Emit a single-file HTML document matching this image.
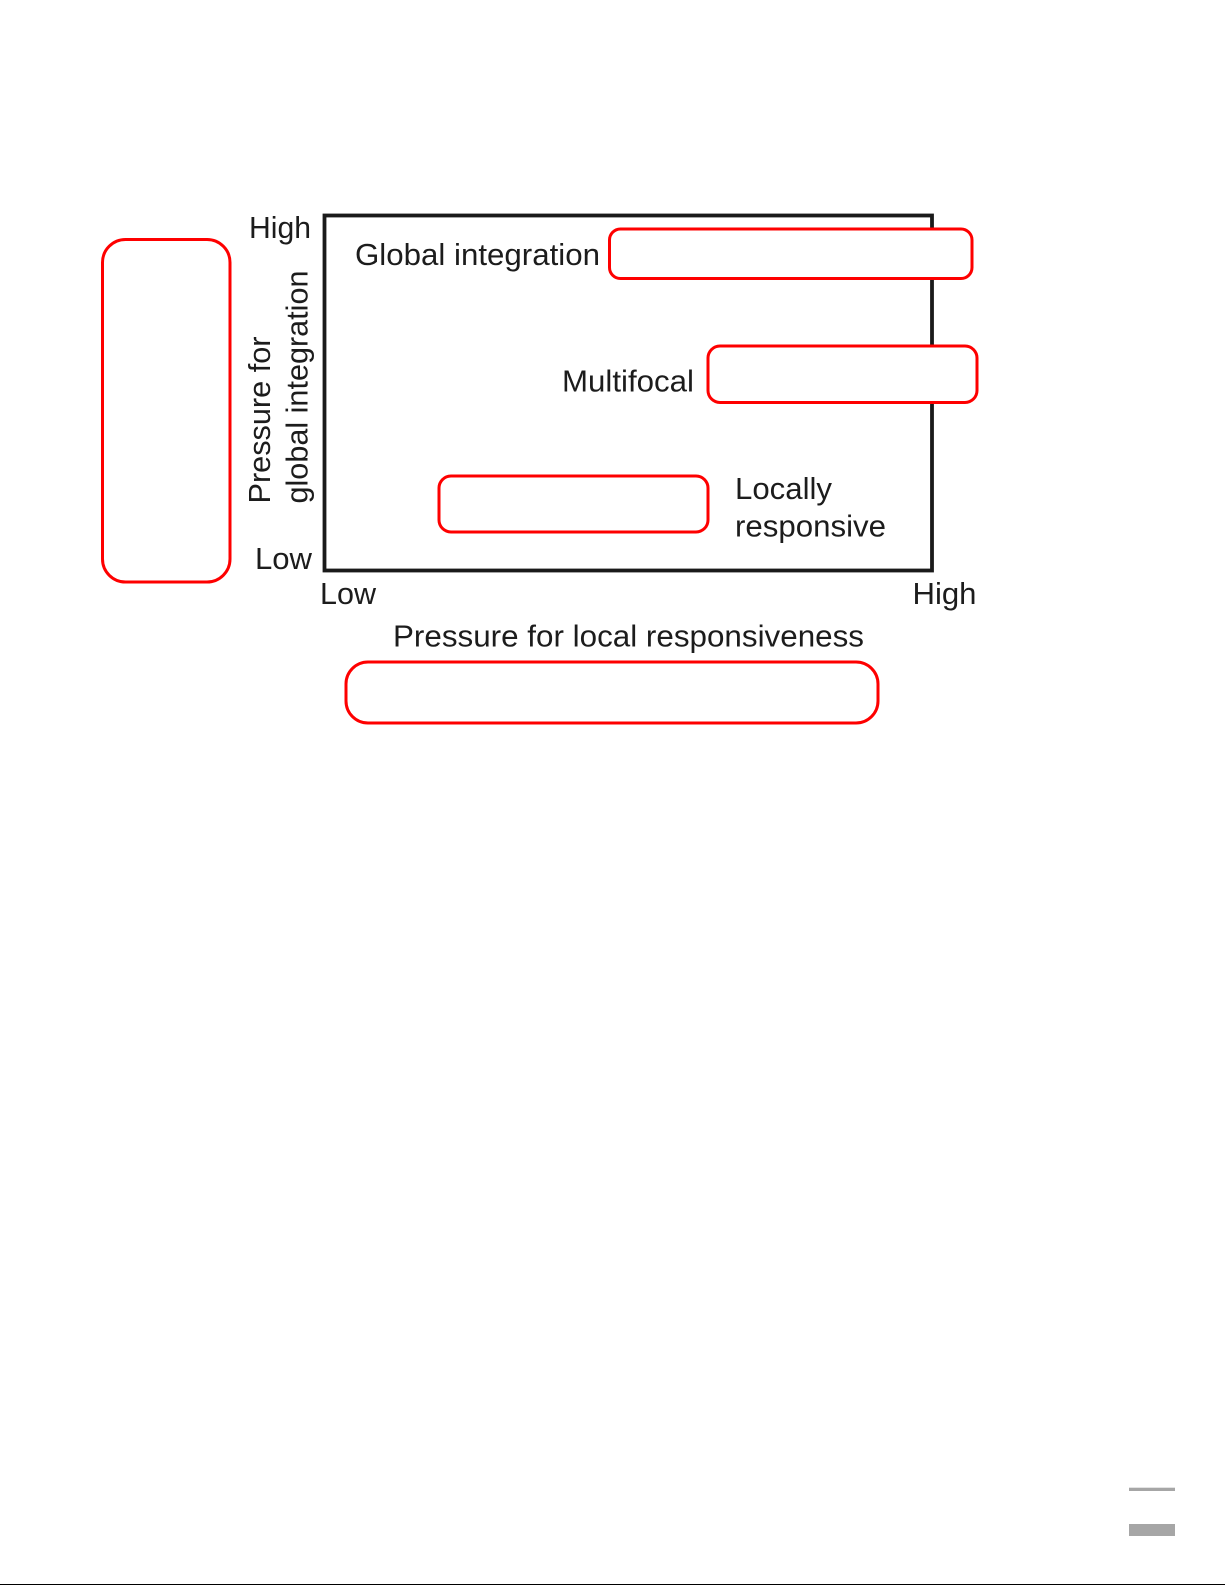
<!DOCTYPE html>
<html lang="en">
<head>
<meta charset="utf-8">
<title>Global integration and local responsiveness diagram</title>
<style>
html,body{margin:0;padding:0;background:#fff;width:1225px;height:1585px;overflow:hidden}
svg{display:block}
text{font-family:"Liberation Sans",Arial,sans-serif;font-size:31px;fill:#1c1c1c}
.r{fill:none;stroke:#fe0000;stroke-width:3}
</style>
</head>
<body>
<svg width="1225" height="1585" viewBox="0 0 1225 1585" xmlns="http://www.w3.org/2000/svg">
<rect x="0" y="0" width="1225" height="1585" fill="#fff"/>
<rect x="324.500" y="215.500" width="607.500" height="355" fill="none" stroke="#1a1a1a" stroke-width="3.800"/>

<rect class="r" x="609.500" y="229" width="362.500" height="49.500" rx="11" ry="11" style="fill:#fff"/>
<rect class="r" x="708" y="346" width="269" height="56.500" rx="12" ry="12" style="fill:#fff"/>
<rect class="r" x="439" y="476" width="269" height="56" rx="12" ry="12" style="fill:#fff"/>
<rect class="r" x="102.500" y="239.500" width="127.500" height="342.500" rx="23" ry="23"/>
<rect class="r" x="346" y="662" width="532" height="61" rx="22" ry="22"/>

<text x="249" y="238" textLength="62" lengthAdjust="spacingAndGlyphs">High</text>
<text x="255" y="569" textLength="57" lengthAdjust="spacingAndGlyphs">Low</text>
<text x="355" y="265" textLength="245" lengthAdjust="spacingAndGlyphs">Global integration</text>
<text x="562" y="391.500" textLength="132" lengthAdjust="spacingAndGlyphs">Multifocal</text>
<text x="735" y="499" textLength="97" lengthAdjust="spacingAndGlyphs">Locally</text>
<text x="735" y="536.500" textLength="151" lengthAdjust="spacingAndGlyphs">responsive</text>
<text x="320" y="604" textLength="56" lengthAdjust="spacingAndGlyphs">Low</text>
<text x="912.500" y="604" textLength="64" lengthAdjust="spacingAndGlyphs">High</text>
<text x="393" y="646.500" textLength="471" lengthAdjust="spacingAndGlyphs">Pressure for local responsiveness</text>

<text transform="translate(270 503.500) rotate(-90)" textLength="167" lengthAdjust="spacingAndGlyphs">Pressure for</text>
<text transform="translate(307.500 503.500) rotate(-90)" textLength="233" lengthAdjust="spacingAndGlyphs">global integration</text>

<rect x="1129" y="1487.700" width="46" height="3.300" fill="#a6a6a6"/>
<rect x="1129" y="1524" width="46" height="12" fill="#a6a6a6"/>
<rect x="0" y="1584" width="1225" height="1" fill="#000"/>
</svg>
</body>
</html>
